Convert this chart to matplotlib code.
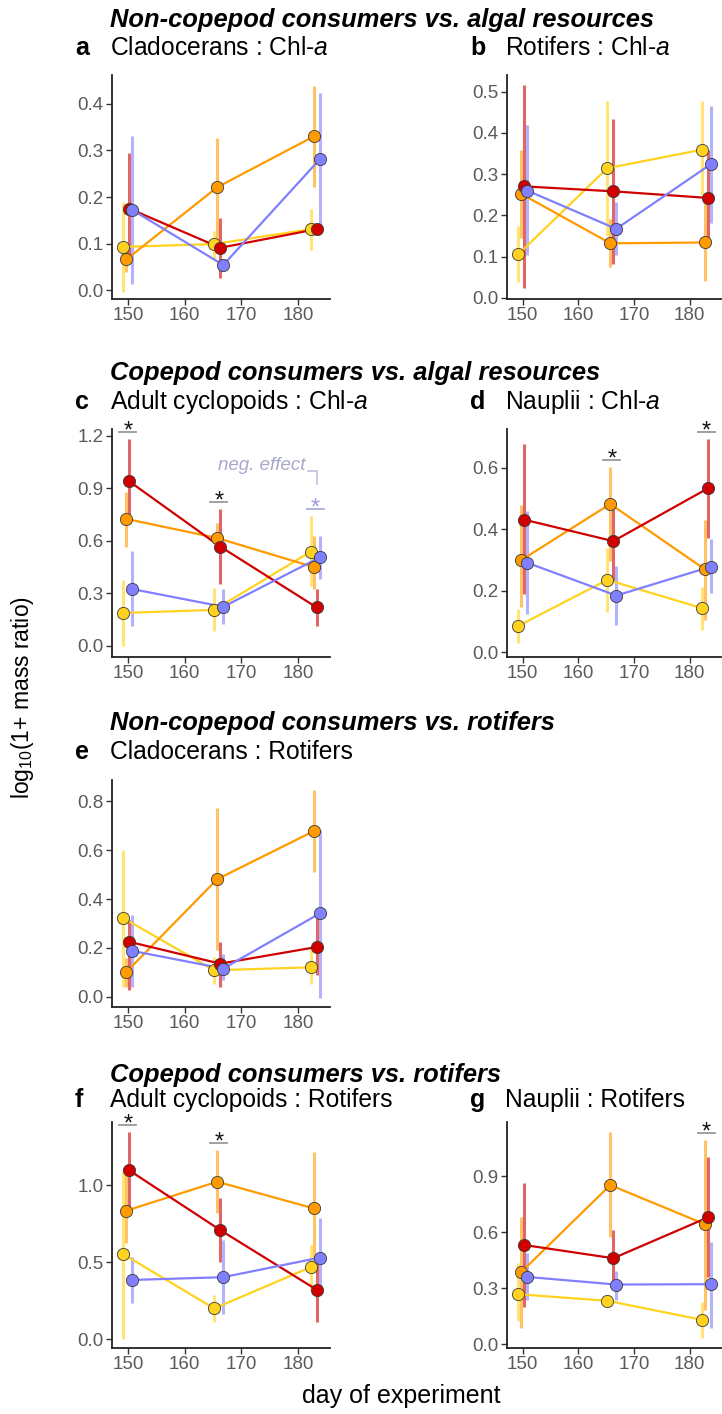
import matplotlib
matplotlib.use('Agg')
import matplotlib.pyplot as plt

plt.rcParams['font.family'] = ['Liberation Sans', 'DejaVu Sans']
plt.rcParams['mathtext.fontset'] = 'custom'
plt.rcParams['mathtext.rm'] = 'Liberation Sans'
plt.rcParams['mathtext.it'] = 'Liberation Sans:italic'

# sampling days and treatment colours (drawn in this order)
days = [150, 166, 183]
colors = ['#FFD21F', '#FF9A00', '#D00000', '#8080FF']
dodge = [-0.8, -0.27, 0.27, 0.8]

# means and interval bounds, one row per treatment, one column per day
a_mean = [[0.093, 0.099, 0.131], [0.066, 0.221, 0.330], [0.175, 0.091, 0.131], [0.172, 0.054, 0.281]]
a_lo = [[-0.003, 0.066, 0.086], [0.040, 0.100, 0.221], [0.060, 0.027, 0.120], [0.013, 0.045, 0.138]]
a_hi = [[0.190, 0.127, 0.174], [0.100, 0.327, 0.438], [0.294, 0.155, 0.142], [0.331, 0.065, 0.424]]

b_mean = [[0.105, 0.314, 0.359], [0.252, 0.132, 0.134], [0.270, 0.258, 0.242], [0.260, 0.167, 0.324]]
b_lo = [[0.037, 0.150, 0.250], [0.146, 0.074, 0.040], [0.024, 0.083, 0.134], [0.103, 0.103, 0.182]]
b_hi = [[0.174, 0.476, 0.477], [0.358, 0.190, 0.230], [0.516, 0.433, 0.357], [0.419, 0.233, 0.464]]

c_mean = [[0.189, 0.206, 0.539], [0.726, 0.617, 0.451], [0.940, 0.568, 0.220], [0.325, 0.224, 0.506]]
c_lo = [[0.000, 0.086, 0.344], [0.564, 0.541, 0.325], [0.726, 0.357, 0.115], [0.115, 0.124, 0.382]]
c_hi = [[0.376, 0.329, 0.745], [0.879, 0.700, 0.631], [1.185, 0.783, 0.325], [0.541, 0.325, 0.631]]

d_mean = [[0.085, 0.235, 0.143], [0.299, 0.482, 0.269], [0.431, 0.361, 0.533], [0.291, 0.184, 0.278]]
d_lo = [[0.028, 0.130, 0.071], [0.146, 0.297, 0.103], [0.189, 0.232, 0.372], [0.125, 0.087, 0.192]]
d_hi = [[0.141, 0.340, 0.211], [0.480, 0.603, 0.431], [0.676, 0.480, 0.695], [0.458, 0.280, 0.367]]

e_mean = [[0.322, 0.109, 0.121], [0.102, 0.481, 0.677], [0.225, 0.136, 0.204], [0.188, 0.116, 0.341]]
e_lo = [[0.041, 0.052, 0.052], [0.040, 0.190, 0.511], [0.027, 0.041, 0.089], [0.041, 0.068, -0.003]]
e_hi = [[0.600, 0.164, 0.198], [0.160, 0.770, 0.845], [0.313, 0.225, 0.327], [0.334, 0.177, 0.681]]

f_mean = [[0.551, 0.199, 0.467], [0.834, 1.022, 0.849], [1.095, 0.708, 0.320], [0.384, 0.402, 0.529]]
f_lo = [[0.000, 0.110, 0.320], [0.622, 0.816, 0.449], [0.838, 0.503, 0.114], [0.233, 0.164, 0.341]]
f_hi = [[1.097, 0.287, 0.611], [1.086, 1.231, 1.216], [1.346, 0.914, 0.557], [0.536, 0.644, 0.784]]

g_mean = [[0.267, 0.232, 0.130], [0.385, 0.852, 0.642], [0.531, 0.460, 0.679], [0.360, 0.319, 0.321]]
g_lo = [[0.121, 0.210, 0.032], [0.086, 0.576, 0.184], [0.201, 0.326, 0.362], [0.237, 0.237, 0.086]]
g_hi = [[0.433, 0.255, 0.228], [0.683, 1.137, 1.096], [0.861, 0.611, 1.004], [0.487, 0.389, 0.549]]

# significant days (index into days) and whether the effect is negative
c_sig = [(0, False), (1, False), (2, True)]
d_sig = [(1, False), (2, False)]
f_sig = [(0, False), (1, False)]
g_sig = [(2, False)]

section_titles = ['Non-copepod consumers vs. algal resources',
                  'Copepod consumers vs. algal resources',
                  'Non-copepod consumers vs. rotifers',
                  'Copepod consumers vs. rotifers']

W, H = 722, 1414
fig = plt.figure(figsize=(W / 100, H / 100), dpi=100)


def px_axes(left, top, right, bottom):
    return fig.add_axes([left / W, 1 - bottom / H, (right - left) / W, (bottom - top) / H])


def ftext(x, y, s, **kw):
    fig.text(x / W, 1 - y / H, s, **kw)


def draw_panel(ax, mean, lo, hi, ylim, yticks, sig=()):
    for k in range(4):
        xs = [d + dodge[k] for d in days]
        ax.vlines(xs, lo[k], hi[k], color=colors[k], lw=2.2, alpha=0.6, zorder=2)
    for k in range(4):
        xs = [d + dodge[k] for d in days]
        ax.plot(xs, mean[k], color=colors[k], lw=1.6, zorder=3)
    for k in range(4):
        xs = [d + dodge[k] for d in days]
        ax.plot(xs, mean[k], ls='none', marker='o', ms=8.8, mfc=colors[k],
                mec='#3a3a3a', mew=0.6, zorder=4)
    ax.set_xlim(147.2, 185.6)
    ax.set_ylim(*ylim)
    ax.set_xticks([150, 160, 170, 180])
    ax.set_yticks(yticks)
    ax.set_yticklabels(['%.1f' % t for t in yticks])
    for s in ['top', 'right']:
        ax.spines[s].set_visible(False)
    for s in ['left', 'bottom']:
        ax.spines[s].set_linewidth(1.3)
        ax.spines[s].set_color('#222222')
    ax.tick_params(labelsize=13.5, labelcolor='#5a5a5a', color='#333333',
                   length=4, width=1, pad=2)
    span = ylim[1] - ylim[0]
    px = span / ax.get_position().height / H  # data units per pixel
    for i, neg in sig:
        top = max(hi[k][i] for k in range(4))
        ly = top + 7 * px
        lc = '#AAAADD' if neg else '#999999'
        sc = '#9999DD' if neg else '#111111'
        ax.plot([days[i] - 1.5, days[i] + 1.5], [ly, ly], color=lc, lw=1.3,
                clip_on=False, zorder=5)
        ax.annotate('*', (days[i], ly), xytext=(0, -4), textcoords='offset points',
                    ha='center', va='baseline', fontsize=17, color=sc,
                    annotation_clip=False, zorder=5)
        if neg:
            bx = days[i] + 0.3
            ax.plot([bx - 1.6, bx, bx], [ly + 38 * px, ly + 38 * px, ly + 25 * px],
                    color='#BBBBDD', lw=1.1, clip_on=False)
            ax.text(bx - 2.1, ly + 43 * px, 'neg. effect', ha='right',
                    va='center', fontsize=13.5, style='italic', color='#A8A8CC')


cols = [(112, 330), (507, 721)]
rows = [(75, 299), (429, 657), (780, 1007), (1122, 1348)]

ax_a = px_axes(cols[0][0], rows[0][0], cols[0][1], rows[0][1])
draw_panel(ax_a, a_mean, a_lo, a_hi, (-0.019, 0.462), [0.0, 0.1, 0.2, 0.3, 0.4])
ax_b = px_axes(cols[1][0], rows[0][0], cols[1][1], rows[0][1])
draw_panel(ax_b, b_mean, b_lo, b_hi, (-0.003, 0.54), [0.0, 0.1, 0.2, 0.3, 0.4, 0.5])
ax_c = px_axes(cols[0][0], rows[1][0], cols[0][1], rows[1][1])
draw_panel(ax_c, c_mean, c_lo, c_hi, (-0.063, 1.24), [0.0, 0.3, 0.6, 0.9, 1.2], c_sig)
ax_d = px_axes(cols[1][0], rows[1][0], cols[1][1], rows[1][1])
draw_panel(ax_d, d_mean, d_lo, d_hi, (-0.016, 0.726), [0.0, 0.2, 0.4, 0.6], d_sig)
ax_e = px_axes(cols[0][0], rows[2][0], cols[0][1], rows[2][1])
draw_panel(ax_e, e_mean, e_lo, e_hi, (-0.041, 0.886), [0.0, 0.2, 0.4, 0.6, 0.8])
ax_f = px_axes(cols[0][0], rows[3][0], cols[0][1], rows[3][1])
draw_panel(ax_f, f_mean, f_lo, f_hi, (-0.058, 1.41), [0.0, 0.5, 1.0], f_sig)
ax_g = px_axes(cols[1][0], rows[3][0], cols[1][1], rows[3][1])
draw_panel(ax_g, g_mean, g_lo, g_hi, (-0.021, 1.19), [0.0, 0.3, 0.6, 0.9], g_sig)

# section headings and panel subtitles (baselines in pixels)
title_base = [27, 380, 730, 1082]
sub_base = [55, 409, 759, 1107]
for t, y in zip(section_titles, title_base):
    ftext(110, y, t, fontsize=18.4, weight='bold', style='italic', va='baseline')

subs = [
    (0, 'a', 'Cladocerans : Chl-$\\it{a}$'),
    (0, 'b', 'Rotifers : Chl-$\\it{a}$'),
    (1, 'c', 'Adult cyclopoids : Chl-$\\it{a}$'),
    (1, 'd', 'Nauplii : Chl-$\\it{a}$'),
    (2, 'e', 'Cladocerans : Rotifers'),
    (3, 'f', 'Adult cyclopoids : Rotifers'),
    (3, 'g', 'Nauplii : Rotifers'),
]
col_of = {'a': 0, 'b': 1, 'c': 0, 'd': 1, 'e': 0, 'f': 0, 'g': 1}
for r, letter, s in subs:
    x0 = 75 if col_of[letter] == 0 else 470
    ftext(x0, sub_base[r], letter, fontsize=18, weight='bold', va='baseline')
    ftext(x0 + 35, sub_base[r], s, fontsize=17.7, va='baseline')

ftext(23, 698, 'log$_{10}$(1+ mass ratio)', fontsize=16.5, rotation=90,
      ha='center', va='center')
ftext(401, 1396, 'day of experiment', fontsize=18, ha='center', va='center')

fig.savefig('out.png', dpi=100)
